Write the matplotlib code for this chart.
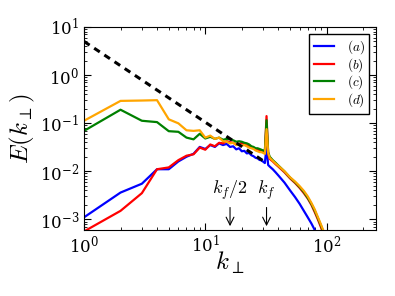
import numpy as np
import matplotlib
matplotlib.use("Agg")
import matplotlib.pyplot as plt

plt.rcParams["mathtext.fontset"] = "cm"
plt.rcParams["font.family"] = ["DejaVu Serif"]

# wavenumbers: every integer up to the forcing scale, sparser in the tail
K = [1, 2, 3, 4, 5, 6, 7, 8, 9, 10, 11, 12, 13, 14, 15, 16, 17, 18, 19, 20,
     21, 22, 23, 24, 25, 26, 27, 28, 29, 30, 31, 32,
     33, 34, 36, 38, 40, 45, 50, 55, 60, 65, 70, 75, 80, 85, 90, 95, 100]

E_A = [1.1e-3, 3.6e-3, 5.5e-3, 0.011, 0.011, 0.016, 0.020, 0.023, 0.032, 0.029,
       0.035, 0.032, 0.038, 0.035, 0.037, 0.032, 0.033, 0.0285, 0.030, 0.026,
       0.0265, 0.0235, 0.024, 0.0215, 0.0205, 0.019, 0.0185, 0.0172, 0.0168,
       0.0158, 0.0148, 0.032,
       0.0135, 0.0125, 0.011, 0.0095, 0.0082, 0.0058, 0.0040, 0.0029, 0.0021,
       0.0015, 0.0011, 8.2e-4, 6.0e-4, 4.5e-4, 3.3e-4, 2.5e-4, 2.0e-4]

E_B = [5.6e-4, 1.5e-3, 3.5e-3, 0.011, 0.012, 0.017, 0.021, 0.0225, 0.031, 0.028,
       0.036, 0.033, 0.039, 0.038, 0.042, 0.040, 0.039, 0.036, 0.037, 0.039,
       0.0355, 0.0345, 0.033, 0.032, 0.030, 0.029, 0.0285, 0.027, 0.026,
       0.0255, 0.025, 0.140,
       0.023, 0.018, 0.016, 0.014, 0.0125, 0.0095, 0.0071, 0.0057, 0.0045,
       0.0035, 0.0027, 0.0020, 0.0014, 9.8e-4, 6.8e-4, 4.6e-4, 3.0e-4]

E_C = [0.069, 0.190, 0.112, 0.105, 0.068, 0.066, 0.050, 0.046, 0.060, 0.048,
       0.052, 0.047, 0.050, 0.045, 0.047, 0.046, 0.044, 0.041, 0.042, 0.041,
       0.039, 0.038, 0.036, 0.033, 0.032, 0.030, 0.030, 0.029, 0.028,
       0.027, 0.026, 0.115,
       0.025, 0.020, 0.017, 0.015, 0.0132, 0.0099, 0.0074, 0.0059, 0.0047,
       0.0037, 0.0028, 0.0021, 0.0015, 1.05e-3, 7.4e-4, 5.2e-4, 3.3e-4]

E_D = [0.112, 0.290, 0.295, 0.300, 0.120, 0.099, 0.071, 0.069, 0.071, 0.050,
       0.055, 0.047, 0.050, 0.042, 0.041, 0.038, 0.039, 0.035, 0.036, 0.034,
       0.035, 0.033, 0.031, 0.030, 0.029, 0.027, 0.026, 0.025, 0.025,
       0.024, 0.023, 0.075,
       0.024, 0.019, 0.0165, 0.0145, 0.013, 0.010, 0.0075, 0.0061, 0.0049,
       0.0039, 0.0030, 0.0022, 0.0016, 1.1e-3, 7.8e-4, 5.5e-4, 3.5e-4]

# k^(-5/3) reference line, end points only
K_REF = [1, 32]
E_REF = [5.0, 0.0148]

KF = 32

fig = plt.figure(figsize=(3.95, 2.96), dpi=100)
ax = fig.add_axes([0.2127, 0.223, 0.7393, 0.686])

ax.plot(K, E_A, color="blue", lw=1.6, label=r"$(a)$")
ax.plot(K, E_B, color="red", lw=1.6, label=r"$(b)$")
ax.plot(K, E_C, color="green", lw=1.6, label=r"$(c)$")
ax.plot(K, E_D, color="orange", lw=1.6, label=r"$(d)$")
ax.plot(K_REF, E_REF, color="black", lw=2.2, ls=(0, (2.2, 1.8)))

ax.set_xscale("log")
ax.set_yscale("log")
ax.set_xlim(1, 256)
ax.set_ylim(6e-4, 10)

ax.tick_params(which="both", direction="in", top=True, right=True, labelsize=12)
ax.tick_params(which="major", length=5)
ax.tick_params(which="minor", length=2.5)

ax.set_xlabel(r"$k_\perp$", fontsize=18, labelpad=-5)
ax.set_ylabel(r"$E(k_\perp)$", fontsize=18, labelpad=2)

arrow = dict(arrowstyle="->", color="black", lw=0.8, mutation_scale=14)
ax.annotate(r"$k_f/2$", xy=(KF / 2, 6.3e-4), xytext=(KF / 2, 2.3e-3),
            ha="center", va="bottom", fontsize=13, arrowprops=arrow)
ax.annotate(r"$k_f$", xy=(KF, 6.3e-4), xytext=(KF, 2.3e-3),
            ha="center", va="bottom", fontsize=13, arrowprops=arrow)

leg = ax.legend(loc="upper right", fontsize=9.5, fancybox=False,
                handlelength=1.5, borderpad=0.35, labelspacing=0.0,
                handletextpad=1.0, framealpha=1)
leg.get_frame().set_edgecolor("black")

fig.savefig("out.png", dpi=100)
